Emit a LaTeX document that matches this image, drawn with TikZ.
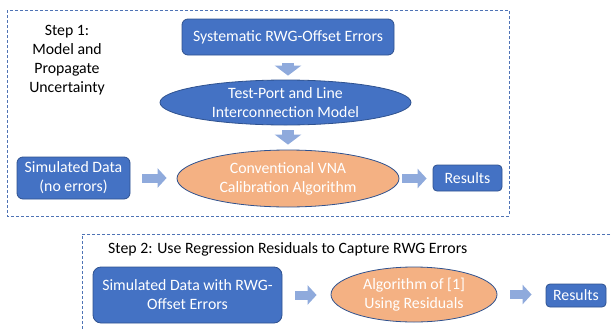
\documentclass[tikz,border=0pt]{standalone}
\usepackage{fontspec}
\setmainfont{Carlito}
\usetikzlibrary{shapes.geometric,arrows.meta}
\definecolor{bluefill}{HTML}{4472C4}
\definecolor{blueline}{HTML}{2F528F}
\definecolor{arrowblue}{HTML}{8FAADC}
\definecolor{orangefill}{HTML}{F4B183}
\definecolor{frameblue}{HTML}{4F73B5}
\tikzset{
  txt/.style={font=\fontsize{15.8}{19}\selectfont, align=center, inner sep=0pt},
  bluebox/.style={draw=blueline, fill=bluefill, rounded corners=6pt, text=white,
    txt, line width=0.8pt},
  ellbase/.style={ellipse, draw=blueline, line width=0.8pt, inner sep=0pt},
  ellblue/.style={ellbase, fill=bluefill},
  ellorange/.style={ellbase, fill=orangefill},
  wtxt/.style={txt, text=white},
  blockarrow/.style={arrowblue, line width=9pt, -{Triangle[width=19pt,length=9pt]}},
  vblockarrow/.style={arrowblue, line width=12pt, -{Triangle[width=26pt,length=10pt]}},
  frame/.style={frameblue, line width=0.9pt, dash pattern=on 3pt off 2pt}
}
\begin{document}
\begin{tikzpicture}[x=1pt,y=-1pt]
\useasboundingbox (0,0) rectangle (611,330);
\clip (0,0) rectangle (611,330);
% frames
\draw[frame] (7,10) rectangle (509,216);
\draw[frame] (620,234) -- (82,234) -- (82,340);
% step labels
\node[txt] (s1) at (67,60) {Step 1:\\Model and\\Propagate\\Uncertainty};
\node[txt, anchor=west] (s2) at (108,249) {Step 2: Use Regression Residuals to Capture RWG Errors};
% step 1 nodes
\node[bluebox, minimum width=212pt, minimum height=36pt] (sys) at (288,37) {Systematic RWG-Offset Errors};
\node[ellblue, minimum width=251pt, minimum height=45pt] (ell1) at (285.5,102.5) {};
\node[wtxt] (ell1t) at (ell1.center) {Test-Port and Line\\Interconnection Model};
\node[ellorange, minimum width=222pt, minimum height=57pt] (ell2) at (288,178.5) {};
\node[wtxt] (ell2t) at (ell2.center) {Conventional VNA\\Calibration Algorithm};
\node[bluebox, minimum width=113pt, minimum height=42pt] (sim) at (73.5,178) {Simulated Data\\(no errors)};
\node[bluebox, rounded corners=4pt, minimum width=69pt, minimum height=26pt] (res1) at (467.5,178) {Results};
% step 2 nodes
\node[bluebox, rounded corners=8pt, minimum width=189pt, minimum height=56pt] (simrwg) at (187.5,295) {Simulated Data with RWG-\\Offset Errors};
\node[ellorange, minimum width=166pt, minimum height=55pt] (ell3) at (414,294.5) {};
\node[wtxt] (ell3t) at (ell3.center) {Algorithm of [1]\\Using Residuals};
\node[bluebox, rounded corners=4pt, minimum width=60pt, minimum height=23pt] (res2) at (576,295.5) {Results};
% arrows
\draw[vblockarrow, shorten <=8pt, shorten >=4pt] (sys.south) -- (sys.south |- ell1.north);
\draw[vblockarrow, shorten <=5pt, shorten >=5pt] (ell1.south -| sys.south) -- (ell2.north -| sys.south);
\draw[blockarrow, shorten <=12pt, shorten >=10pt] (sim.east) -- (sim.east -| ell2.west);
\draw[blockarrow, shorten <=3pt, shorten >=6pt] (ell2.east) -- (ell2.east -| res1.west);
\draw[blockarrow, shorten <=13pt, shorten >=14pt] (simrwg.east) -- (simrwg.east -| ell3.west);
\draw[blockarrow, shorten <=13pt, shorten >=14pt] (ell3.east) -- (ell3.east -| res2.west);
\end{tikzpicture}
\end{document}
